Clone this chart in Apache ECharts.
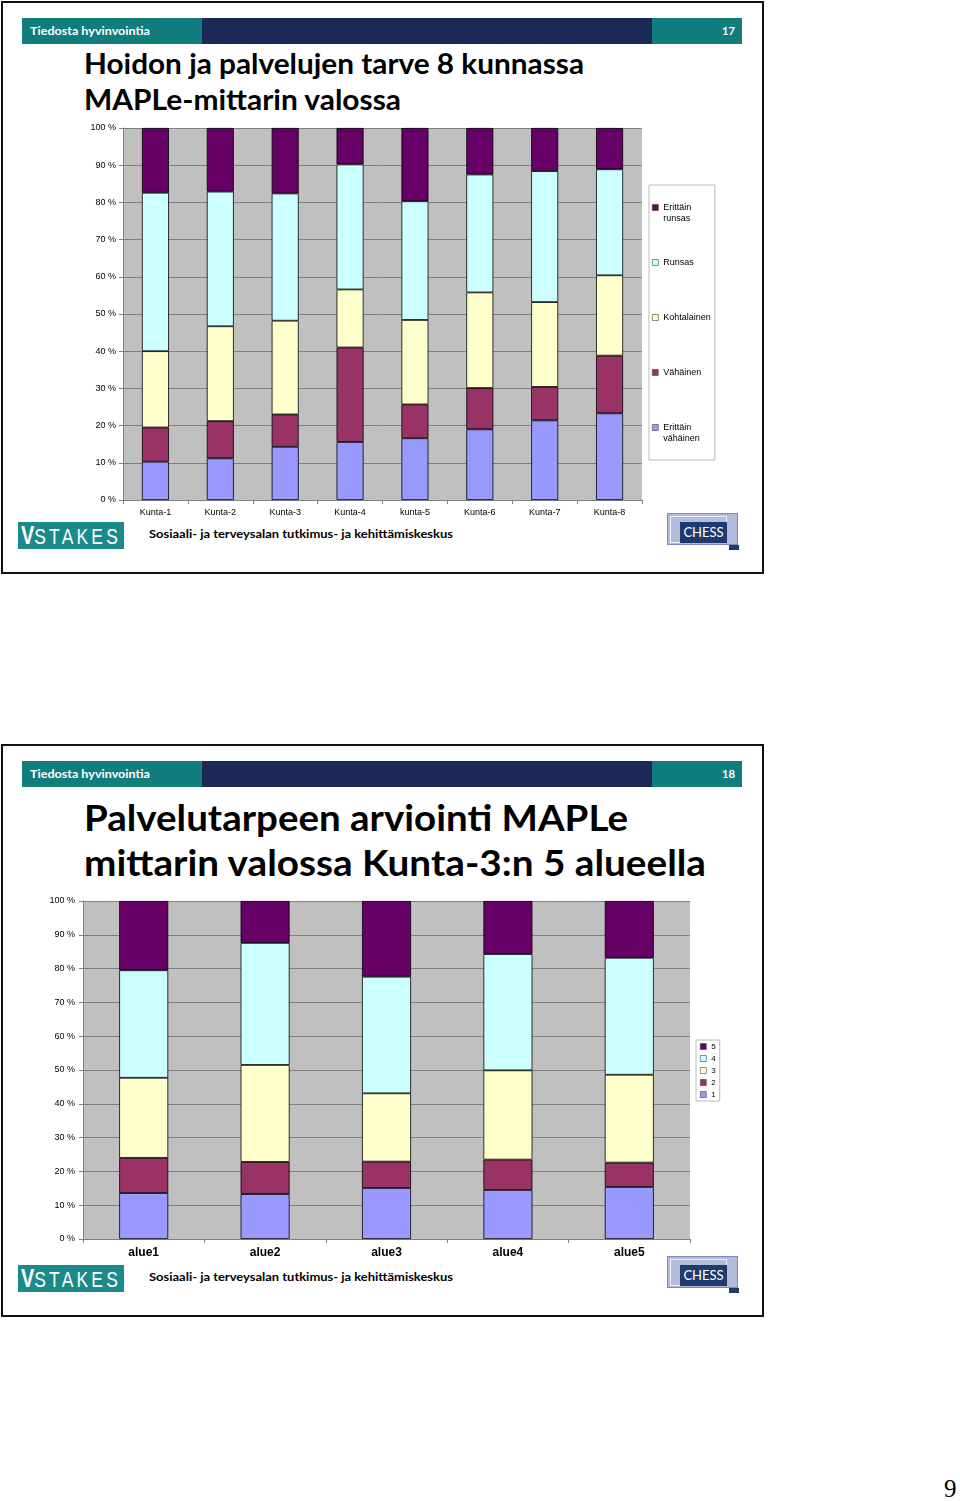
<!DOCTYPE html>
<html><head><meta charset="utf-8">
<script src="https://cdn.jsdelivr.net/npm/echarts@6/dist/echarts.min.js"></script>
<style>
body{margin:0;background:#fff;}
#page{position:relative;width:960px;height:1501px;overflow:hidden;font-family:'Liberation Sans',Arial,sans-serif;}
.abs{position:absolute;}
.slide{position:absolute;left:1px;width:763px;height:573px;border:2px solid #111;box-sizing:border-box;}
.teal{background:#117d7d;}
.navy{background:#1c2957;}
.hdr{color:#fff;font-family:Lato,sans-serif;font-weight:700;font-size:12px;line-height:14px;white-space:nowrap;}
.title{font-family:Lato,sans-serif;font-weight:700;color:#000;white-space:nowrap;transform-origin:0 50%;}
.foot{font-family:Lato,sans-serif;font-weight:700;font-size:12px;line-height:14px;color:#000;white-space:nowrap;transform-origin:0 50%;}
.stakes{background:#1b8a8a;color:#fff;font-family:'Liberation Sans Narrow','Liberation Sans',sans-serif;font-size:22px;line-height:27px;white-space:nowrap;overflow:hidden;}
.chchess{background:#b3bbdb;border:1px solid #7f88bb;box-sizing:border-box;}
.chbox{background:#1f3b6e;color:#fff;font-family:Lato,sans-serif;font-size:13px;line-height:21px;text-align:center;}
.fit{display:inline-block;transform-origin:0 50%;}
</style></head>
<body><div id="page">

<!-- Slide 1 -->
<div class="slide" style="top:1px;"></div>
<div class="abs teal" style="left:22px;top:18px;width:180px;height:26px;"></div>
<div class="abs navy" style="left:202px;top:18px;width:450px;height:26px;"></div>
<div class="abs teal" style="left:652px;top:18px;width:90px;height:26px;"></div>
<div class="abs hdr" style="left:30px;top:24px;"><span class="fit" data-w="120">Tiedosta hyvinvointia</span></div>
<div class="abs hdr" style="left:722px;top:24px;"><span class="fit" data-w="13">17</span></div>
<div class="abs title" style="left:84px;top:46px;font-size:29px;line-height:34px;"><span class="fit" data-w="500">Hoidon ja palvelujen tarve 8 kunnassa</span></div>
<div class="abs title" style="left:84px;top:82px;font-size:29px;line-height:34px;"><span class="fit" data-w="317">MAPLe-mittarin valossa</span></div>
<div class="abs stakes" style="left:18px;top:522px;width:106px;height:27px;"><span class="fit" data-w="100" style="margin-left:3px"><b style="font-family:'Liberation Sans';font-size:25px;">V</b><span style="letter-spacing:4px">STAKES</span></span></div>
<div class="abs foot" style="left:149px;top:527px;"><span class="fit" data-w="304">Sosiaali- ja terveysalan tutkimus- ja kehittämiskeskus</span></div>
<div class="abs chchess" style="left:667px;top:513px;width:71px;height:32px;"></div>
<div class="abs" style="left:670px;top:516px;width:57px;height:27px;border:1px solid #eef0f8;box-sizing:border-box;"></div>
<div class="abs chbox" style="left:680px;top:522px;width:47px;height:21px;">CHESS</div>
<div class="abs" style="left:729px;top:545px;width:10px;height:5px;background:#1f3b6e;"></div>

<!-- Slide 2 -->
<div class="slide" style="top:744px;"></div>
<div class="abs teal" style="left:22px;top:761px;width:180px;height:26px;"></div>
<div class="abs navy" style="left:202px;top:761px;width:450px;height:26px;"></div>
<div class="abs teal" style="left:652px;top:761px;width:90px;height:26px;"></div>
<div class="abs hdr" style="left:30px;top:767px;"><span class="fit" data-w="120">Tiedosta hyvinvointia</span></div>
<div class="abs hdr" style="left:722px;top:767px;"><span class="fit" data-w="13">18</span></div>
<div class="abs title" style="left:84px;top:796px;font-size:37px;line-height:42px;"><span class="fit" data-w="544">Palvelutarpeen arviointi MAPLe</span></div>
<div class="abs title" style="left:84px;top:841px;font-size:37px;line-height:42px;"><span class="fit" data-w="622">mittarin valossa Kunta-3:n 5 alueella</span></div>
<div class="abs stakes" style="left:18px;top:1265px;width:106px;height:27px;"><span class="fit" data-w="100" style="margin-left:3px"><b style="font-family:'Liberation Sans';font-size:25px;">V</b><span style="letter-spacing:4px">STAKES</span></span></div>
<div class="abs foot" style="left:149px;top:1270px;"><span class="fit" data-w="304">Sosiaali- ja terveysalan tutkimus- ja kehittämiskeskus</span></div>
<div class="abs chchess" style="left:667px;top:1256px;width:71px;height:32px;"></div>
<div class="abs" style="left:670px;top:1259px;width:57px;height:27px;border:1px solid #eef0f8;box-sizing:border-box;"></div>
<div class="abs chbox" style="left:680px;top:1265px;width:47px;height:21px;">CHESS</div>
<div class="abs" style="left:729px;top:1288px;width:10px;height:5px;background:#1f3b6e;"></div>

<div class="abs" style="left:944px;top:1476px;font-family:'Liberation Serif',serif;font-size:25px;line-height:26px;">9</div>

<div id="c1" class="abs" style="left:0;top:110px;width:765px;height:420px;"></div>
<div id="c2" class="abs" style="left:0;top:885px;width:765px;height:385px;"></div>
</div>
<script>
// ---------- data: chart 1 (slide 17) ----------
const categories1 = ['Kunta-1','Kunta-2','Kunta-3','Kunta-4','kunta-5','Kunta-6','Kunta-7','Kunta-8'];
const seriesNames1 = ['Erittäin vähäinen','Vähäinen','Kohtalainen','Runsas','Erittäin runsas'];
const erittainVahainen1 = [10.3, 11.2, 14.3, 15.6, 16.6, 19.0, 21.4, 23.3];
const vahainen1         = [ 9.2, 10.0,  8.7, 25.4,  9.1, 11.1,  9.0, 15.5];
const kohtalainen1      = [20.5, 25.5, 25.2, 15.6, 22.7, 25.7, 22.8, 21.6];
const runsas1           = [42.6, 36.2, 34.2, 33.6, 31.9, 31.7, 35.2, 28.5];
const erittainRunsas1   = [17.4, 17.1, 17.6,  9.8, 19.7, 12.5, 11.6, 11.1];

// ---------- data: chart 2 (slide 18) ----------
const categories2 = ['alue1','alue2','alue3','alue4','alue5'];
const seriesNames2 = ['1','2','3','4','5'];
const level1 = [13.6, 13.3, 15.1, 14.5, 15.4];
const level2 = [10.4,  9.5,  7.8,  9.0,  7.2];
const level3 = [23.7, 28.7, 20.2, 26.4, 26.0];
const level4 = [31.8, 36.1, 34.5, 34.4, 34.6];
const level5 = [20.5, 12.4, 22.4, 15.7, 16.8];

const yTicks = {min: 0, max: 100, interval: 10};
const colors = ['#9999ff', '#993366', '#ffffcc', '#ccffff', '#660066'];

// fit text widths
document.querySelectorAll('.fit').forEach(el => {
  const w = +el.dataset.w, cur = el.getBoundingClientRect().width;
  if (cur > 0) el.style.transform = 'scaleX(' + (w / cur) + ')';
});

function baseAxes(cats, xFont, yMargin) {
  return {
    xAxis: {
      type: 'category', data: cats,
      axisLine: {lineStyle: {color: '#808080', width: 1}},
      axisTick: {show: true, length: 4, lineStyle: {color: '#808080'}},
      axisLabel: Object.assign({color: '#000', margin: 8, interval: 0}, xFont)
    },
    yAxis: {
      type: 'value', min: yTicks.min, max: yTicks.max, interval: yTicks.interval,
      axisLine: {show: true, lineStyle: {color: '#808080', width: 1}},
      axisTick: {show: true, length: 4, lineStyle: {color: '#808080'}},
      axisLabel: {color: '#000', fontSize: 9, fontFamily: 'Liberation Sans', margin: yMargin, formatter: '{value} %'},
      splitLine: {show: true, lineStyle: {color: '#808080', width: 1}}
    }
  };
}
function mkSeries(names, arrays, bw) {
  return names.map((n, i) => ({
    name: n, type: 'bar', stack: 'total', barWidth: bw,
    data: arrays[i],
    itemStyle: {color: colors[i], borderColor: '#000', borderWidth: 0.8},
    emphasis: {disabled: true}
  }));
}
const legendIconStyle = {borderColor: '#444', borderWidth: 0.6};

// chart 1
const c1 = echarts.init(document.getElementById('c1'));
const legendText1 = {
  'Erittäin runsas': '\nErittäin\nrunsas',
  'Runsas': '\nRunsas\n',
  'Kohtalainen': '\nKohtalainen\n',
  'Vähäinen': '\nVähäinen\n',
  'Erittäin vähäinen': '\nErittäin\nvähäinen'
};
const ax1 = baseAxes(categories1, {fontSize: 9, fontFamily: 'Liberation Sans'}, 7);
c1.setOption({
  animation: false,
  grid: {left: 123, top: 18, width: 519, height: 372, show: true, backgroundColor: '#c0c0c0', borderWidth: 0},
  xAxis: ax1.xAxis, yAxis: ax1.yAxis,
  legend: {
    orient: 'vertical', left: 649, top: 75,
    data: seriesNames1.slice().reverse(),
    icon: 'rect',
    itemWidth: 6, itemHeight: 6, itemGap: 22,
    padding: [6, 4, 16, 3],
    backgroundColor: '#fff', borderColor: '#bbb', borderWidth: 1,
    selectedMode: false,
    itemStyle: legendIconStyle,
    formatter: n => legendText1[n],
    textStyle: {fontSize: 9, lineHeight: 11, color: '#000', fontFamily: 'Liberation Sans'}
  },
  series: mkSeries(seriesNames1, [erittainVahainen1, vahainen1, kohtalainen1, runsas1, erittainRunsas1], 27)
});

// chart 2
const c2 = echarts.init(document.getElementById('c2'));
const ax2 = baseAxes(categories2, {fontSize: 12, fontWeight: 'bold', fontFamily: 'Liberation Sans'}, 8);
c2.setOption({
  animation: false,
  grid: {left: 83, top: 16, width: 607, height: 338, show: true, backgroundColor: '#c0c0c0', borderWidth: 0},
  xAxis: ax2.xAxis, yAxis: ax2.yAxis,
  legend: {
    orient: 'vertical', left: 696, top: 155,
    data: seriesNames2.slice().reverse(),
    icon: 'rect',
    itemWidth: 6, itemHeight: 6, itemGap: 3,
    padding: [2, 4, 2, 4],
    backgroundColor: '#fff', borderColor: '#bbb', borderWidth: 1,
    selectedMode: false,
    itemStyle: legendIconStyle,
    textStyle: {fontSize: 8, lineHeight: 9, color: '#000', fontFamily: 'Liberation Sans'}
  },
  series: mkSeries(seriesNames2, [level1, level2, level3, level4, level5], 49)
});
</script>
</body></html>
